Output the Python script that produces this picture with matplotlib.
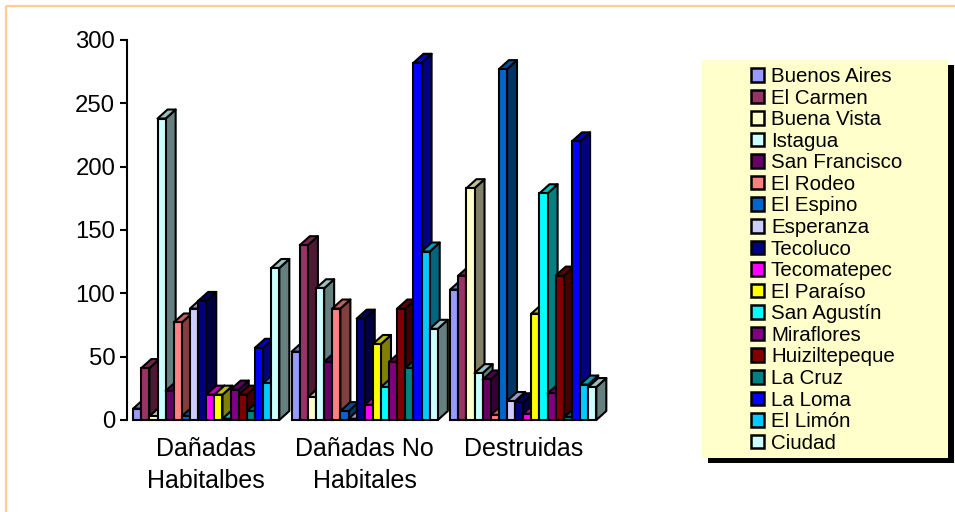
import matplotlib
matplotlib.use("Agg")
import matplotlib.pyplot as plt
import matplotlib.colors as mcolors
from matplotlib.patches import Patch, Polygon, Rectangle

plt.rcParams["font.family"] = ["Liberation Sans", "DejaVu Sans"]

categories = ["Dañadas\nHabitalbes", "Dañadas No\nHabitales", "Destruidas"]
places = ["Buenos Aires", "El Carmen", "Buena Vista", "Istagua", "San Francisco",
          "El Rodeo", "El Espino", "Esperanza", "Tecoluco", "Tecomatepec",
          "El Paraíso", "San Agustín", "Miraflores", "Huiziltepeque", "La Cruz",
          "La Loma", "El Limón", "Ciudad"]
place_colors = ["#9999FF", "#993366", "#FFFFCC", "#CCFFFF", "#660066",
                "#FF8080", "#0066CC", "#CCCCFF", "#000080", "#FF00FF",
                "#FFFF00", "#00FFFF", "#800080", "#800000", "#008080",
                "#0000FF", "#00CCFF", "#CCFFFF"]
habitables = [9, 41, 3, 238, 23, 77, 3, 88, 94, 20, 20, 1, 24, 20, 7, 57, 29, 120]
no_habitables = [54, 138, 18, 104, 46, 88, 7, 1, 80, 12, 60, 26, 46, 88, 41, 282, 133, 72]
destruidas = [103, 114, 183, 37, 32, 4, 277, 15, 14, 5, 84, 179, 21, 114, 2, 220, 28, 26]
groups = [habitables, no_habitables, destruidas]
yticks = [0, 50, 100, 150, 200, 250, 300]

W, H = 955, 512
EDGE = 1.5
bar_w = 8.12 / 158.5
dx = 10 / 158.5
dy = 9 / (380 / 300)


def shade(color, f):
    r, g, b = mcolors.to_rgb(color)
    return (r * f, g * f, b * f)


fig = plt.figure(figsize=(W / 100, H / 100), dpi=100, facecolor="white")

# page frame and legend box, in pixels
bg = fig.add_axes([0, 0, 1, 1], zorder=0)
bg.set_xlim(0, W)
bg.set_ylim(H, 0)
bg.axis("off")
bg.add_patch(Rectangle((6, 6), W + 20, H + 20, fill=False, edgecolor="#FFCC99", lw=1.6))
bg.add_patch(Rectangle((708, 65), 246, 398, facecolor="black", edgecolor="none"))
bg.add_patch(Rectangle((702, 60), 246, 398, facecolor="#FFFFCC", edgecolor="none"))

ax = fig.add_axes([127 / W, 1 - 420 / H, 475.5 / W, 380 / H], zorder=1)
ax.patch.set_alpha(0)
ax.set_xlim(-0.5, 2.5)
ax.set_ylim(0, 300)

z = 3
for i, vals in enumerate(groups):
    for j, v in enumerate(vals):
        left = i + (j - 9) * bar_w
        right = left + bar_w
        c = place_colors[j]
        side = [(right, 0), (right + dx, dy), (right + dx, v + dy), (right, v)]
        top = [(left, v), (left + dx, v + dy), (right + dx, v + dy), (right, v)]
        ax.add_patch(Polygon(side, closed=True, facecolor=shade(c, 0.5), edgecolor="black",
                             lw=EDGE, zorder=z, clip_on=False, joinstyle="round"))
        ax.add_patch(Polygon(top, closed=True, facecolor=shade(c, 0.75), edgecolor="black",
                             lw=EDGE, zorder=z, clip_on=False, joinstyle="round"))
        ax.bar(left, v, width=bar_w, align="edge", color=c, edgecolor="black",
               linewidth=EDGE, zorder=z + 1, clip_on=False)
        z += 2

for s in ["top", "right", "bottom"]:
    ax.spines[s].set_visible(False)
ax.spines["left"].set_linewidth(1.5)
ax.set_yticks(yticks)
ax.tick_params(axis="y", labelsize=17.2, length=5, width=1.5, pad=3.5)
ax.set_xticks(range(len(categories)))
ax.set_xticklabels(categories, fontsize=18, linespacing=1.46)
ax.tick_params(axis="x", length=0, pad=12)

handles = [Patch(facecolor=c, edgecolor="black", linewidth=1.8) for c in place_colors]
fig.legend(handles, places, loc="upper left", bbox_to_anchor=(751 / W, 1 - 67 / H),
           frameon=False, fontsize=14.8, handlelength=0.64, handleheight=0.64,
           handletextpad=0.33, labelspacing=0.125, borderpad=0, borderaxespad=0)

fig.savefig("out.png", dpi=100)
